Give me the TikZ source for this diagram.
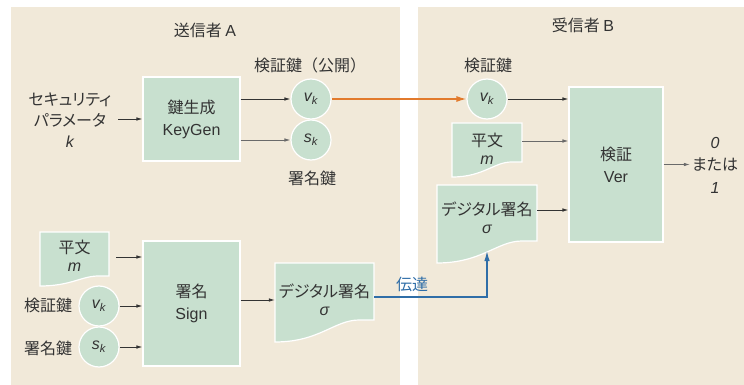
\documentclass[tikz,border=0pt]{standalone}
\usepackage{fontspec}
\setmainfont{Liberation Sans}
\newfontfamily\jp{Noto Sans CJK JP}[RawFeature=+palt]
\newfontfamily\jpw{Noto Sans CJK JP}
\usetikzlibrary{arrows.meta,calc}
\definecolor{panelbg}{HTML}{F1E9D9}
\definecolor{boxgreen}{HTML}{C8E0CF}
\definecolor{txt}{HTML}{333333}
\definecolor{arrdark}{HTML}{333333}
\definecolor{arrgray}{HTML}{6A6A6A}
\definecolor{orangeline}{HTML}{E27A2C}
\definecolor{blueline}{HTML}{2F6EA8}
\newcommand\iv[1]{{\normalfont\itshape #1}}
\newcommand\la[1]{{\normalfont #1}}
\newcommand\mydoc[5]{%
  \filldraw[docsty] (#1,#2) -- (#3,#2) -- (#3,#4) -- ({#1+0.85*(#3-#1)},#4)
    .. controls ({#1+0.6*(#3-#1)},#4) and ({#1+0.45*(#3-#1)},#5) .. (#1,#5) -- cycle;}
\tikzset{
  lbl/.style={font=\jp\fontsize{16}{20}\selectfont, text=txt, align=center, inner sep=1pt},
  greenbox/.style={lbl, rectangle, fill=boxgreen, draw=white, line width=1.2pt, inner sep=0pt},
  keycirc/.style={lbl, circle, fill=boxgreen, draw=white, line width=1.2pt, minimum size=40pt, inner sep=0pt},
  docsty/.style={fill=boxgreen, draw=white, line width=1.2pt},
  doctext/.style={lbl, inner sep=0pt, font=\jp\fontsize{16}{18}\selectfont},
  arr/.style={draw=arrdark, line width=0.8pt, -{Latex[length=6pt,width=3.6pt]}},
  arrg/.style={arr, draw=arrgray},
  orangearr/.style={draw=orangeline, line width=1.3pt, -{Latex[length=10pt,width=6pt]}},
  bluearr/.style={draw=blueline, line width=1.3pt, -{Latex[length=10pt,width=5.5pt]}},
}
\begin{document}
\begin{tikzpicture}[x=1pt,y=-1pt]
\useasboundingbox (0,0) rectangle (744,385);
% panels
\fill[panelbg] (11,7) rectangle (400,385);
\fill[panelbg] (418,7) rectangle (744,385);
% titles
\node[lbl] (titleA) at (205,30) {送信者 \la{A}};
\node[lbl] (titleB) at (583,25) {受信者 \la{B}};
% key generation
\node[lbl, font=\jp\fontsize{16}{21}\selectfont] (secparam) at (70,120) {セキュリティ\\パラメータ\\\iv{k}};
\node[greenbox, minimum width=97pt, minimum height=84pt, font=\jp\fontsize{16}{22}\selectfont] (keygen) at (191.5,119) {鍵生成\\\la{KeyGen}};
\node[lbl, font=\jpw\fontsize{16}{20}\selectfont] (pubkey) at (310,65) {検証鍵（公開）};
\node[keycirc] (vkA) at (311,99) {\iv{v}\textsubscript{\iv{k}}};
\node[keycirc] (skA) at (311,140) {\iv{s}\textsubscript{\iv{k}}};
\node[lbl] (signkey) at (312,178) {署名鍵};
% signing
\mydoc{40}{232}{109}{276}{286}
\node[doctext, minimum width=69pt] (mA) at (74.5,255.5) {平文\\\iv{m}};
\node[greenbox, minimum width=97pt, minimum height=125pt, font=\jp\fontsize{16}{22}\selectfont] (sign) at (191.5,303.5) {署名\\\la{Sign}};
\node[lbl] (vklabel) at (48,305) {検証鍵};
\node[keycirc] (vk2) at (99,306) {\iv{v}\textsubscript{\iv{k}}};
\node[lbl] (sklabel) at (48,348) {署名鍵};
\node[keycirc] (sk2) at (99,347) {\iv{s}\textsubscript{\iv{k}}};
\mydoc{275}{263}{374}{320}{342}
\node[doctext, minimum width=99pt] (sigA) at (324.5,300) {デジタル署名\\\iv{σ}};
% receiver
\node[lbl] (vkBlabel) at (488,65) {検証鍵};
\node[keycirc] (vkB) at (487,99) {\iv{v}\textsubscript{\iv{k}}};
\mydoc{452}{123}{522}{162}{177}
\node[doctext, minimum width=70pt] (mB) at (487,148.5) {平文\\\iv{m}};
\mydoc{437}{185}{537}{241}{263}
\node[doctext, minimum width=100pt] (sigB) at (487,218) {デジタル署名\\\iv{σ}};
\coordinate (sigBtip) at (487,251);
\node[greenbox, minimum width=94pt, minimum height=155pt, font=\jp\fontsize{16}{22}\selectfont] (ver) at (616,164.5) {検証\\\la{Ver}};
\node[lbl, font=\jp\fontsize{16}{22.5}\selectfont, inner sep=2pt] (out) at (715,165) {\iv{0}\\または\\\iv{1}};
\node[lbl, text=blueline] (tsutatsu) at (412,284) {伝達};
% connectors
\draw[arr] ([xshift=-24pt]keygen.west) -- (keygen.west);
\draw[arr] (keygen.east |- vkA) -- (vkA.west);
\draw[arrg] (keygen.east |- skA) -- (skA.west);
\draw[orangearr] (vkA.east) -- (vkB.west);
\draw[arr] (vkB.east) -- (vkB.east -| ver.west);
\draw[arrg] ([yshift=7.5pt]mB.east) -- ([yshift=7.5pt]mB.east -| ver.west);
\draw[arr] ([yshift=8pt]sigB.east) -- ([yshift=8pt]sigB.east -| ver.west);
\draw[arrg] (ver.east) -- (ver.east -| out.west);
\draw[arr, shorten <=7pt] ([yshift=-1.5pt]mA.east) -- ([yshift=-1.5pt]mA.east -| sign.west);
\draw[arr] (vk2.east) -- (vk2.east -| sign.west);
\draw[arr] (sk2.east) -- (sk2.east -| sign.west);
\draw[arr] (sign.east |- sigA.west) -- (sigA.west);
\draw[bluearr] ([yshift=3pt]sigA.east) -- ([yshift=3pt]sigA.east -| sigBtip) -- (sigBtip);
\end{tikzpicture}
\end{document}
